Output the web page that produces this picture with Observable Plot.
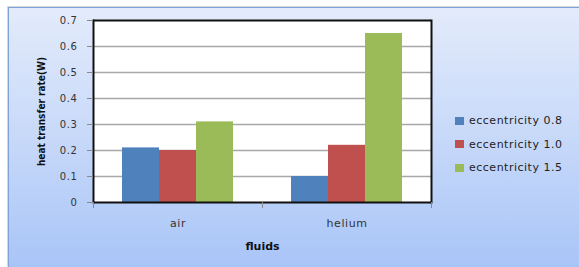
<!DOCTYPE html>
<html>
<head>
<meta charset="utf-8">
<script src="https://cdn.jsdelivr.net/npm/d3@7"></script>
<script src="https://cdn.jsdelivr.net/npm/@observablehq/plot@0.6"></script>
<style>
  html, body { margin: 0; padding: 0; background: #ffffff; }
  #wrap { position: relative; width: 579px; height: 267px; overflow: hidden; }
  #bg {
    position: absolute; left: 8px; top: 7px; width: 580px; height: 270px;
    border-left: 1px solid #7fa2d8; border-top: 1px solid #7fa2d8;
    background: linear-gradient(to bottom, #e3ebfb 0%, #c6d8f9 50%, #a6c3f7 100%);
    box-shadow: -1px -1px 0 #d8d8d8;
  }
  #chart { position: absolute; left: 0; top: 0; }
  #chart svg { font-family: "DejaVu Sans", sans-serif; color: #333; }
  #chart g[aria-label="y-axis tick label"] { font-size: 10px; letter-spacing: 0.6px; }
  #chart g[aria-label="fx-axis tick label"] { font-size: 11px; letter-spacing: 0.6px; }
  #chart g[aria-label="y-axis label"] { font-family: "DejaVu Sans Condensed", "Liberation Sans Narrow", "DejaVu Sans", sans-serif; font-weight: bold; font-size: 10px; color: #111; }
  #chart g[aria-label="fx-axis label"] { font-weight: bold; font-size: 11px; color: #111; }
  #legend { position: absolute; left: 455px; top: 109px; font-family: "DejaVu Sans", sans-serif; font-size: 11px; letter-spacing: 0.5px; color: #222; }
  #legend .row { display: flex; align-items: center; height: 23.5px; }
  #legend .sw { width: 9px; height: 8px; margin-right: 5px; }
</style>
</head>
<body>
<div id="wrap">
  <div id="bg"></div>
  <div id="chart"></div>
  <div id="legend"></div>
</div>
<script>
const fluids = ["air", "helium"];
const series = ["eccentricity 0.8", "eccentricity 1.0", "eccentricity 1.5"];
const airValues = [0.21, 0.20, 0.31];
const heliumValues = [0.10, 0.22, 0.65];
const colors = ["#4f81bd", "#c0504d", "#9bbb59"];
const yTicks = [0, 0.1, 0.2, 0.3, 0.4, 0.5, 0.6, 0.7];
const yLabel = "heat transfer rate(W)";
const xLabel = "fluids";

const valuesByFluid = [airValues, heliumValues];
const data = fluids.flatMap((f, i) => series.map((s, j) => ({fluid: f, series: s, value: valuesByFluid[i][j]})));

const plotHeight = 267 - 20 - 65;

const chart = Plot.plot({
  width: 579,
  height: 267,
  marginLeft: 93,
  marginRight: 148,
  marginTop: 20,
  marginBottom: 65,
  style: {background: "transparent", overflow: "visible"},
  fx: {domain: fluids, padding: 0},
  x: {domain: series, paddingInner: 0, paddingOuter: 0.74, axis: null},
  y: {domain: [0, 0.7], axis: null},
  color: {domain: series, range: colors},
  marks: [
    Plot.frame({fill: "white", stroke: null, shapeRendering: "crispEdges"}),
    Plot.ruleY(yTicks.slice(1, -1), {stroke: "#a8a8a8", strokeWidth: 1.5}),
    Plot.barY(data, {fx: "fluid", x: "series", y: "value", fill: "series"}),
    Plot.ruleY([0, 0.7], {stroke: "#111", strokeWidth: 2}),
    Plot.frame({anchor: "left", facetAnchor: "left", stroke: "#111", strokeWidth: 2}),
    Plot.frame({anchor: "right", facetAnchor: "right", stroke: "#111", strokeWidth: 2}),
    // category boundary ticks below the x axis
    Plot.frame({anchor: "left", stroke: "#888", strokeWidth: 1, insetTop: plotHeight, insetBottom: -5}),
    Plot.frame({anchor: "right", facetAnchor: "right", stroke: "#888", strokeWidth: 1, insetTop: plotHeight, insetBottom: -5}),
    Plot.axisY({ticks: yTicks, tickSize: 6, tickPadding: 10, tickFormat: d3.format("~g"),
      label: yLabel, labelAnchor: "center", labelOffset: 56, labelArrow: "none", stroke: "#888"}),
    Plot.axisFx({anchor: "bottom", tickSize: 0, tickPadding: 17, label: xLabel,
      labelAnchor: "center", labelOffset: 47, labelArrow: "none"})
  ]
});
document.getElementById("chart").appendChild(chart);

const legend = document.getElementById("legend");
series.forEach((s, i) => {
  const row = document.createElement("div");
  row.className = "row";
  const sw = document.createElement("span");
  sw.className = "sw";
  sw.style.background = colors[i];
  const t = document.createElement("span");
  t.textContent = s;
  row.appendChild(sw);
  row.appendChild(t);
  legend.appendChild(row);
});
</script>
</body>
</html>
